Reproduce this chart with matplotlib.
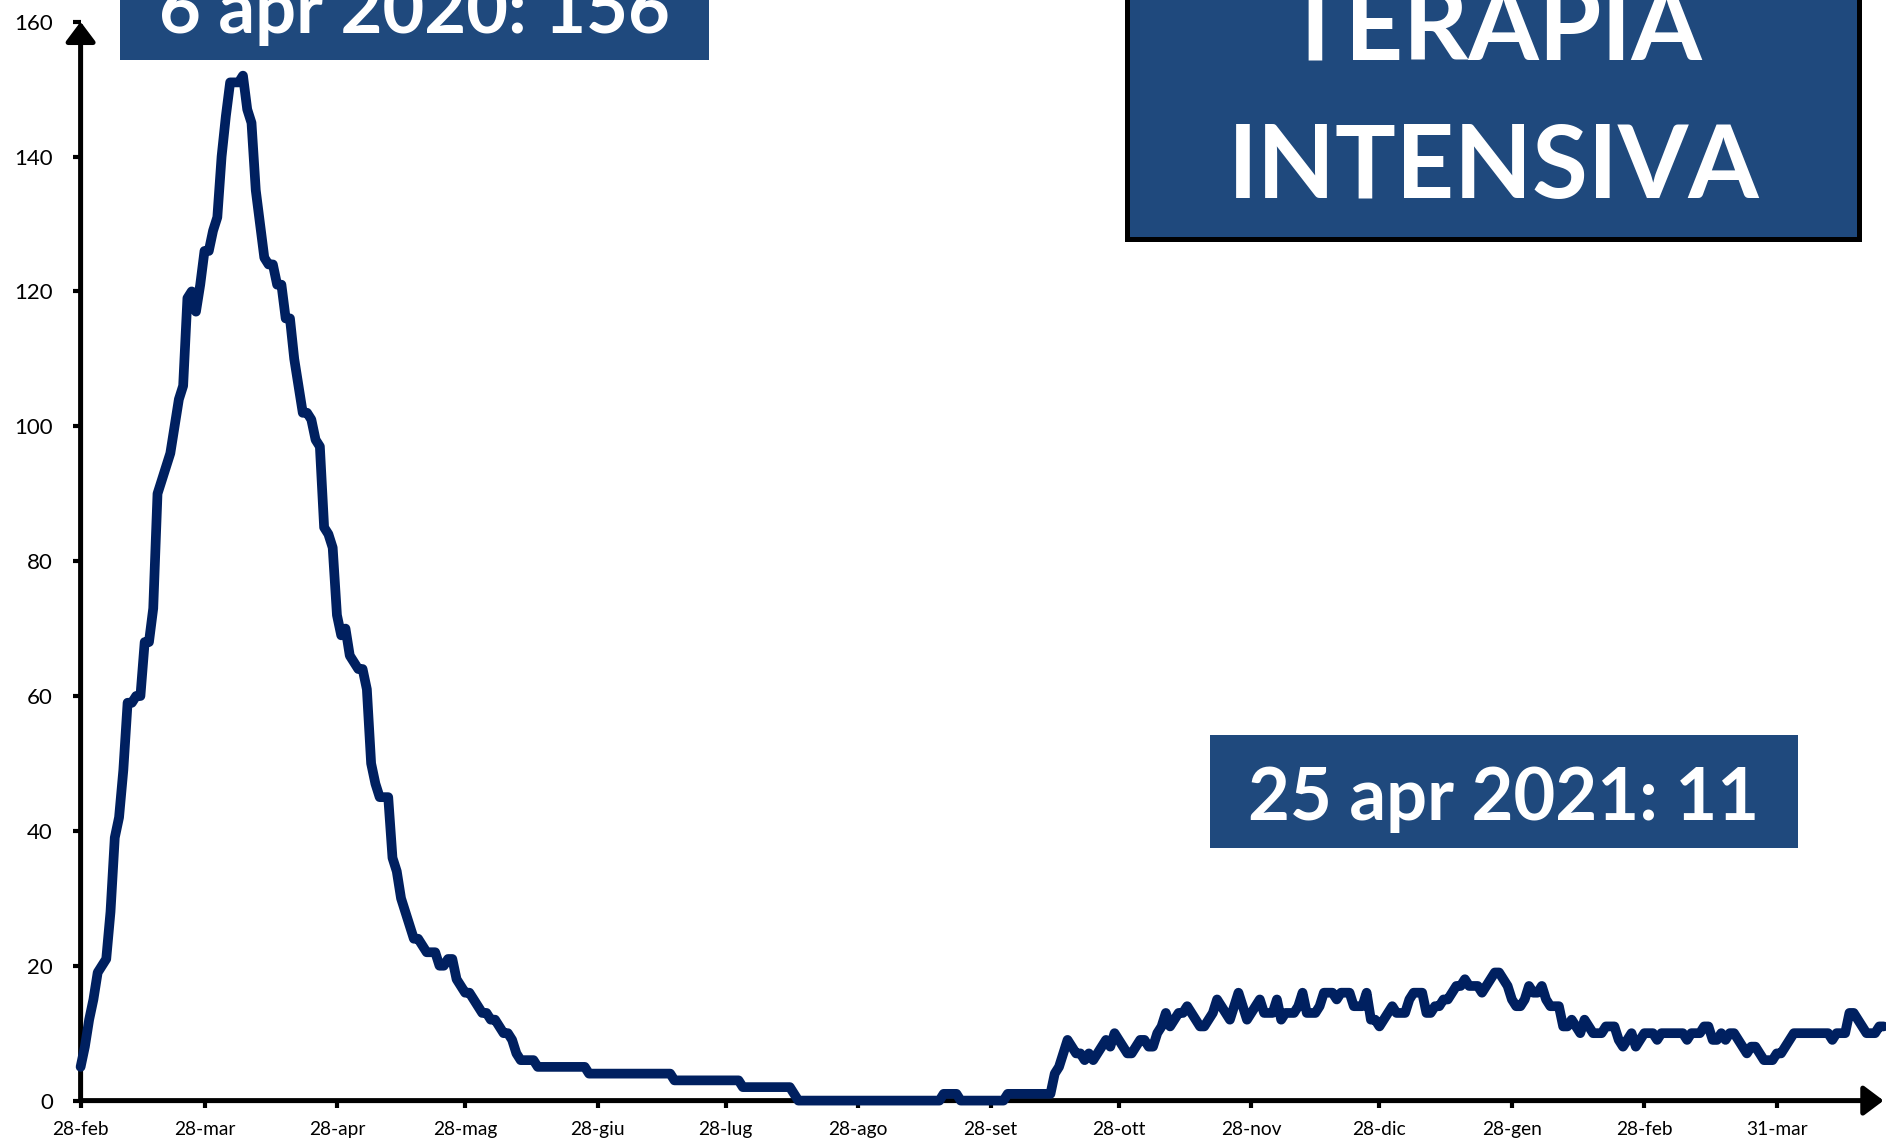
import matplotlib
matplotlib.use("Agg")
import matplotlib.pyplot as plt
from matplotlib.patches import Rectangle
import pandas as pd

# ---- data: ICU patients per day ----
feb_2020 = [5, 8]
mar_2020 = [12, 15, 19, 20, 21, 28, 39, 42, 49, 59, 59, 60, 60, 68, 68, 73, 90, 92, 94, 96,
            100, 104, 106, 119, 120, 117, 121, 126, 126, 129, 131]
apr_2020 = [140, 146, 151, 151, 151, 152, 147, 145, 135, 130, 125, 124, 124, 121, 121, 116, 116, 110, 106, 102,
            102, 101, 98, 97, 85, 84, 82, 72, 69, 70]
may_2020 = [66, 65, 64, 64, 61, 50, 47, 45, 45, 45, 36, 34, 30, 28, 26, 24, 24, 23, 22, 22,
            22, 20, 20, 21, 21, 18, 17, 16, 16, 15, 14]
jun_2020 = [13, 13, 12, 12, 11, 10, 10, 9, 7, 6, 6, 6, 6, 5, 5, 5, 5, 5, 5, 5,
            5, 5, 5, 5, 5, 4, 4, 4, 4, 4]
jul_2020 = [4, 4, 4, 4, 4, 4, 4, 4, 4, 4, 4, 4, 4, 4, 4, 3, 3, 3, 3, 3,
            3, 3, 3, 3, 3, 3, 3, 3, 3, 3, 3]
aug_2020 = [2, 2, 2, 2, 2, 2, 2, 2, 2, 2, 2, 2, 1, 0, 0, 0, 0, 0, 0, 0,
            0, 0, 0, 0, 0, 0, 0, 0, 0, 0, 0]
sep_2020 = [0, 0, 0, 0, 0, 0, 0, 0, 0, 0, 0, 0, 0, 0, 0, 0, 1, 1, 1, 1,
            0, 0, 0, 0, 0, 0, 0, 0, 0, 0]
oct_2020 = [0, 1, 1, 1, 1, 1, 1, 1, 1, 1, 1, 1, 4, 5, 7, 9, 8, 7, 7, 6,
            7, 6, 7, 8, 9, 8, 10, 9, 8, 7, 7]
nov_2020 = [8, 9, 9, 8, 8, 10, 11, 13, 11, 12, 13, 13, 14, 13, 12, 11, 11, 12, 13, 15,
            14, 13, 12, 14, 16, 14, 12, 13, 14, 15]
dec_2020 = [13, 13, 13, 15, 12, 13, 13, 13, 14, 16, 13, 13, 13, 14, 16, 16, 16, 15, 16, 16,
            16, 14, 14, 14, 16, 12, 12, 11, 12, 13, 14]
jan_2021 = [13, 13, 13, 15, 16, 16, 16, 13, 13, 14, 14, 15, 15, 16, 17, 17, 18, 17, 17, 17,
            16, 17, 18, 19, 19, 18, 17, 15, 14, 14, 15]
feb_2021 = [17, 16, 16, 17, 15, 14, 14, 14, 11, 11, 12, 11, 10, 12, 11, 10, 10, 10, 11, 11,
            11, 9, 8, 9, 10, 8, 9, 10]
mar_2021 = [10, 10, 9, 10, 10, 10, 10, 10, 10, 9, 10, 10, 10, 11, 11, 9, 9, 10, 9, 10,
            10, 9, 8, 7, 8, 8, 7, 6, 6, 6, 7]
apr_2021 = [7, 8, 9, 10, 10, 10, 10, 10, 10, 10, 10, 10, 9, 10, 10, 10, 13, 13, 12, 11,
            10, 10, 10, 11, 11]

start_date = "2020-02-28"
tick_dates = ["2020-02-28", "2020-03-28", "2020-04-28", "2020-05-28", "2020-06-28", "2020-07-28",
              "2020-08-28", "2020-09-28", "2020-10-28", "2020-11-28", "2020-12-28", "2021-01-28",
              "2021-02-28", "2021-03-31"]
tick_labels = ["28-feb", "28-mar", "28-apr", "28-mag", "28-giu", "28-lug", "28-ago", "28-set",
               "28-ott", "28-nov", "28-dic", "28-gen", "28-feb", "31-mar"]
y_ticks = [0, 20, 40, 60, 80, 100, 120, 140, 160]

label_peak = "6 apr 2020: 156"
label_last = "25 apr 2021: 11"
title_text = "TERAPIA\nINTENSIVA"

values = (feb_2020 + mar_2020 + apr_2020 + may_2020 + jun_2020 + jul_2020 + aug_2020 + sep_2020
          + oct_2020 + nov_2020 + dec_2020 + jan_2021 + feb_2021 + mar_2021 + apr_2021)
dates = pd.date_range(start_date, periods=len(values), freq="D")

# ---- figure ----
W, H = 1886, 1141
plt.rcParams["font.family"] = ["Lato", "DejaVu Sans"]
fig = plt.figure(figsize=(W / 100, H / 100), dpi=100)
fig.patch.set_facecolor("white")

x0, x1 = 80.6, 1883.6
y0, y1 = 1100.6, 21.7
ax = fig.add_axes([x0 / W, 1 - y0 / H, (x1 - x0) / W, (y0 - y1) / H])
ax.set_facecolor("none")

ax.plot(dates, values, color="#002060", lw=7, solid_joinstyle="round",
        solid_capstyle="round", clip_on=False, zorder=5)
ax.set_xlim(dates[0], dates[-1])
ax.set_ylim(0, 160)

for s in ax.spines.values():
    s.set_visible(False)

arrow_kw = dict(arrowstyle="-|>,head_length=0.6,head_width=0.45", color="black",
                lw=3.6, shrinkA=0, shrinkB=0, mutation_scale=20)
ax.annotate("", xy=(1.0, 0), xytext=(0, 0), xycoords="axes fraction",
            arrowprops=arrow_kw, annotation_clip=False, zorder=4)
ax.annotate("", xy=(0, 1.0), xytext=(0, 0), xycoords="axes fraction",
            arrowprops=arrow_kw, annotation_clip=False, zorder=4)

ax.set_xticks(pd.to_datetime(tick_dates))
ax.set_xticklabels(tick_labels)
ax.set_yticks(y_ticks)
ax.set_yticklabels([str(v) for v in y_ticks])
ax.tick_params(axis="x", direction="out", length=5, width=3, pad=10, labelsize=13.8, colors="black")
ax.tick_params(axis="y", direction="out", length=6, width=3, pad=14, labelsize=16, colors="black")

# ---- annotation boxes ----
box_color = "#1F497D"
def fx(px):
    return px / W
def fy(py):
    return 1 - py / H

fig.add_artist(Rectangle((fx(120), fy(60)), (708.5 - 120) / W, 80 / H, transform=fig.transFigure,
                         facecolor=box_color, edgecolor="none", zorder=10))
fig.text(fx(414.3), fy(32.5), label_peak, color="white", fontsize=52, fontweight="bold",
         ha="center", va="baseline", zorder=11)

fig.add_artist(Rectangle((fx(1210), fy(848)), (1798 - 1210) / W, (848 - 735) / H, transform=fig.transFigure,
                         facecolor=box_color, edgecolor="none", zorder=10))
fig.text(fx(1504), fy(820), label_last, color="white", fontsize=52, fontweight="bold",
         ha="center", va="baseline", zorder=11)

fig.add_artist(Rectangle((fx(1127), fy(238.5)), (1858.5 - 1127) / W, 260 / H, transform=fig.transFigure,
                         facecolor=box_color, edgecolor="black", lw=3.6, zorder=10))
lines = title_text.split("\n")
fig.text(fx(1493.5), fy(60), lines[0], color="white", fontsize=73, fontweight="bold",
         ha="center", va="baseline", zorder=11)
fig.text(fx(1493.5), fy(198.5), lines[1], color="white", fontsize=73, fontweight="bold",
         ha="center", va="baseline", zorder=11)

fig.savefig("out.png", dpi=100, facecolor="white")
